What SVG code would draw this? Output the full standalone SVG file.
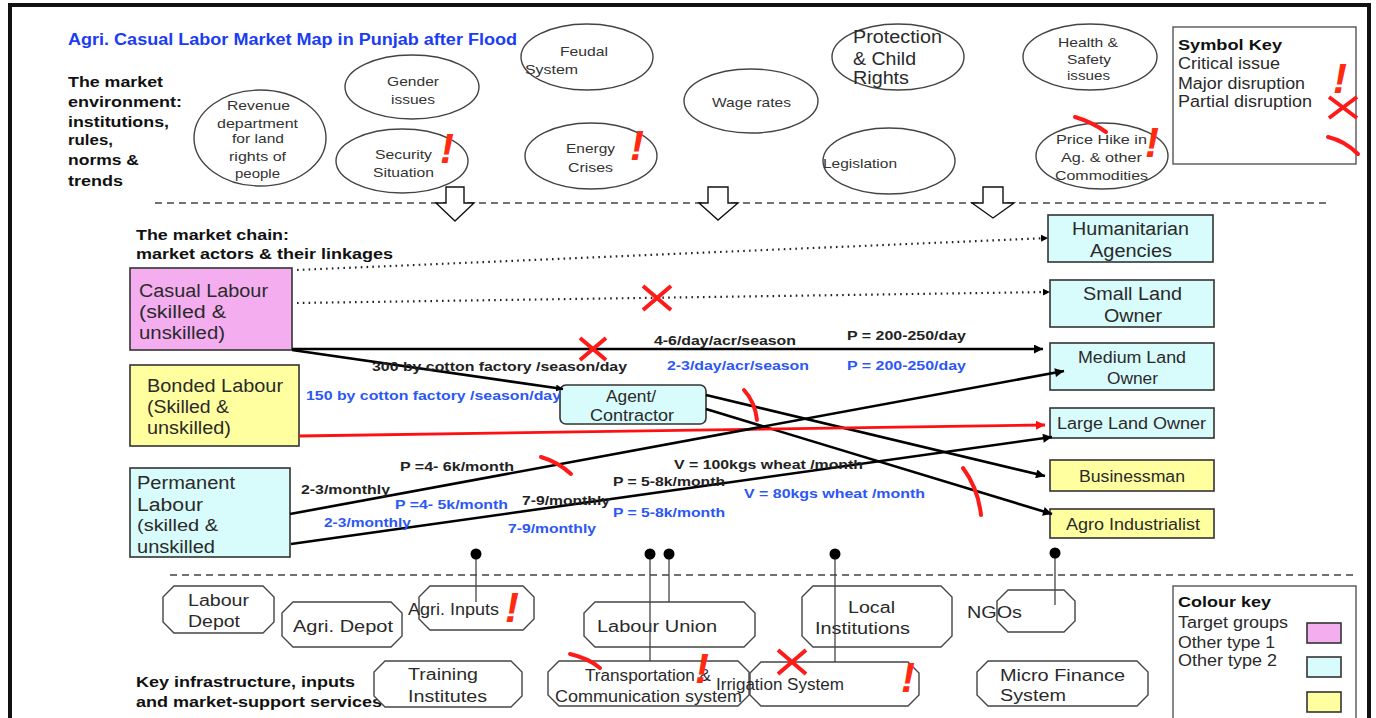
<svg xmlns="http://www.w3.org/2000/svg" width="1376" height="718" viewBox="0 0 1376 718">
<defs>
<style>
text{font-family:"Liberation Sans",Arial,sans-serif}
.t{fill:#333;font-size:13.5px}
.tb{fill:#2a2a2a;font-size:18px}
.ts{fill:#2a2a2a;font-size:16px}
.h{font-weight:bold;fill:#111;font-size:15.5px}
.bk{fill:#222;font-weight:bold;font-size:13px}
.bl{fill:#2b57f5;font-weight:bold;font-size:13px}
.title{fill:#1a3cf5;font-weight:bold;font-size:16px}
.env{fill:none;stroke:#444;stroke-width:1.4}
.box{stroke:#333;stroke-width:1.6}
.pink{fill:#f4aef0}
.cyan{fill:#d8fbfb}
.yel{fill:#ffffa0}
.svc{fill:#fff;stroke:#444;stroke-width:1.4}
.key{fill:#fff;stroke:#555;stroke-width:1.4}
.crit{fill:#ff2a10;font-weight:bold;font-style:italic;font-size:42px}
.x{stroke:#ff1a1a;stroke-width:4;fill:none}
.p{stroke:#ff1a1a;stroke-width:4;fill:none;stroke-linecap:round}
.dash{stroke:#444;stroke-width:1.6;stroke-dasharray:7 5;fill:none}
.link{stroke:#000;stroke-width:2.6;fill:none}
.red{stroke:#ff1010;stroke-width:2.8;fill:none}
.dot{stroke:#222;stroke-width:2.2;stroke-dasharray:1.6 4.2;fill:none}
.pin{stroke:#444;stroke-width:1.3}
.hollow{fill:#fff;stroke:#111;stroke-width:1.4}
</style>
<marker id="ah" viewBox="0 0 10 10" refX="10" refY="5" markerWidth="11" markerHeight="9" markerUnits="userSpaceOnUse" orient="auto">
<path d="M0,0 L10,5 L0,10 z" fill="#000"/>
</marker>
<marker id="ahr" viewBox="0 0 10 10" refX="10" refY="5" markerWidth="11" markerHeight="9" markerUnits="userSpaceOnUse" orient="auto">
<path d="M0,0 L10,5 L0,10 z" fill="#ff1010"/>
</marker>
<marker id="ahs" viewBox="0 0 10 10" refX="10" refY="5" markerWidth="7" markerHeight="8" markerUnits="userSpaceOnUse" orient="auto">
<path d="M0,0 L10,5 L0,10 z" fill="#000"/>
</marker>
</defs>

<rect width="1376" height="718" fill="#fff"/>
<!-- outer frame -->
<path d="M10,740 V5 H1369 V740" fill="none" stroke="#111" stroke-width="4"/>

<!-- headings -->
<g id="headings">
<text class="title" x="68" y="45" textLength="449" lengthAdjust="spacingAndGlyphs">Agri. Casual Labor Market Map in Punjab after Flood</text>
<text class="h" x="68" y="87" textLength="95" lengthAdjust="spacingAndGlyphs">The market</text>
<text class="h" x="68" y="107" textLength="114" lengthAdjust="spacingAndGlyphs">environment:</text>
<text class="h" x="68" y="127" textLength="101" lengthAdjust="spacingAndGlyphs">institutions,</text>
<text class="h" x="68" y="145" textLength="45" lengthAdjust="spacingAndGlyphs">rules,</text>
<text class="h" x="68" y="165" textLength="71" lengthAdjust="spacingAndGlyphs">norms &amp;</text>
<text class="h" x="68" y="186" textLength="55" lengthAdjust="spacingAndGlyphs">trends</text>
<text class="h" x="136" y="240" textLength="153" lengthAdjust="spacingAndGlyphs">The market chain:</text>
<text class="h" x="136" y="259" textLength="257" lengthAdjust="spacingAndGlyphs">market actors &amp; their linkages</text>
<text class="h" x="136" y="687" textLength="219" lengthAdjust="spacingAndGlyphs">Key infrastructure, inputs</text>
<text class="h" x="136" y="707" textLength="246" lengthAdjust="spacingAndGlyphs">and market-support services</text>
</g>

<!-- section dividers -->
<g id="dividers">
<line class="dash" x1="155" y1="203" x2="1330" y2="203"/>
<line class="dash" x1="170" y1="575" x2="1357" y2="575"/>
<polygon class="hollow" points="446,187 464,187 464,203 474,203 455,221 436,203 446,203"/>
<polygon class="hollow" points="708,187 728,187 728,203 738,203 718,220 699,203 708,203"/>
<polygon class="hollow" points="983,187 1003,187 1003,203 1014,203 993,218 972,203 983,203"/>
</g>

<!-- market environment -->
<g id="env-revenue"><ellipse class="env" cx="260" cy="138" rx="66" ry="48"/>
<text class="t" x="227" y="110" textLength="63" lengthAdjust="spacingAndGlyphs">Revenue</text>
<text class="t" x="217" y="128" textLength="81" lengthAdjust="spacingAndGlyphs">department</text>
<text class="t" x="232" y="143" textLength="52" lengthAdjust="spacingAndGlyphs">for land</text>
<text class="t" x="229" y="161" textLength="57" lengthAdjust="spacingAndGlyphs">rights of</text>
<text class="t" x="235" y="178" textLength="45" lengthAdjust="spacingAndGlyphs">people</text></g>
<g id="env-gender"><ellipse class="env" cx="412" cy="87" rx="67" ry="32"/>
<text class="t" x="387" y="86" textLength="52" lengthAdjust="spacingAndGlyphs">Gender</text>
<text class="t" x="391" y="104" textLength="44" lengthAdjust="spacingAndGlyphs">issues</text></g>
<g id="env-security"><ellipse class="env" cx="402" cy="161" rx="66" ry="32"/>
<text class="t" x="375" y="159" textLength="57" lengthAdjust="spacingAndGlyphs">Security</text>
<text class="t" x="373" y="177" textLength="61" lengthAdjust="spacingAndGlyphs">Situation</text></g>
<g id="env-feudal"><ellipse class="env" cx="587" cy="57" rx="66" ry="33"/>
<text class="t" x="560" y="56" textLength="48" lengthAdjust="spacingAndGlyphs">Feudal</text>
<text class="t" x="525" y="74" textLength="53" lengthAdjust="spacingAndGlyphs">System</text></g>
<g id="env-energy"><ellipse class="env" cx="591" cy="156" rx="66" ry="33"/>
<text class="t" x="566" y="153" textLength="49" lengthAdjust="spacingAndGlyphs">Energy</text>
<text class="t" x="568" y="172" textLength="45" lengthAdjust="spacingAndGlyphs">Crises</text></g>
<g id="env-wage"><ellipse class="env" cx="751" cy="101" rx="67" ry="32"/>
<text class="t" x="712" y="107" textLength="79" lengthAdjust="spacingAndGlyphs">Wage rates</text></g>
<g id="env-protection"><ellipse class="env" cx="898" cy="57" rx="66" ry="33"/>
<text class="tb" x="853" y="43" textLength="89" lengthAdjust="spacingAndGlyphs">Protection</text>
<text class="tb" x="853" y="65" textLength="63" lengthAdjust="spacingAndGlyphs">&amp; Child</text>
<text class="tb" x="853" y="84" textLength="56" lengthAdjust="spacingAndGlyphs">Rights</text></g>
<g id="env-legislation"><ellipse class="env" cx="889" cy="161" rx="66" ry="33"/>
<text class="t" x="823" y="168" textLength="74" lengthAdjust="spacingAndGlyphs">Legislation</text></g>
<g id="env-health"><ellipse class="env" cx="1090" cy="57" rx="67" ry="33"/>
<text class="t" x="1058" y="47" textLength="60" lengthAdjust="spacingAndGlyphs">Health &amp;</text>
<text class="t" x="1067" y="64" textLength="44" lengthAdjust="spacingAndGlyphs">Safety</text>
<text class="t" x="1067" y="80" textLength="43" lengthAdjust="spacingAndGlyphs">issues</text></g>
<g id="env-price"><ellipse class="env" cx="1102" cy="156" rx="66" ry="33"/>
<text class="t" x="1056" y="144" textLength="91" lengthAdjust="spacingAndGlyphs">Price Hike in</text>
<text class="t" x="1061" y="162" textLength="81" lengthAdjust="spacingAndGlyphs">Ag. &amp; other</text>
<text class="t" x="1055" y="180" textLength="93" lengthAdjust="spacingAndGlyphs">Commodities</text></g>

<!-- symbol key -->
<g id="symbol-key">
<rect class="key" x="1173" y="27" width="183" height="137"/>
<text class="h" x="1178" y="50" font-size="16" textLength="104" lengthAdjust="spacingAndGlyphs">Symbol Key</text>
<text class="ts" x="1178" y="69" font-size="15" textLength="102" lengthAdjust="spacingAndGlyphs">Critical issue</text>
<text class="ts" x="1178" y="89" font-size="15" textLength="127" lengthAdjust="spacingAndGlyphs">Major disruption</text>
<text class="ts" x="1178" y="107" font-size="15" textLength="134" lengthAdjust="spacingAndGlyphs">Partial disruption</text>
</g>

<!-- market actors -->
<g id="casual-labour"><rect class="box pink" x="130" y="268" width="162" height="82"/>
<text class="tb" x="139" y="297" textLength="129" lengthAdjust="spacingAndGlyphs">Casual Labour</text>
<text class="tb" x="139" y="318" textLength="87" lengthAdjust="spacingAndGlyphs">(skilled &amp;</text>
<text class="tb" x="139" y="339" textLength="86" lengthAdjust="spacingAndGlyphs">unskilled)</text></g>
<g id="bonded-labour"><rect class="box yel" x="130" y="365" width="169" height="81"/>
<text class="tb" x="147" y="392" textLength="136" lengthAdjust="spacingAndGlyphs">Bonded Labour</text>
<text class="tb" x="147" y="413" textLength="82" lengthAdjust="spacingAndGlyphs">(Skilled &amp;</text>
<text class="tb" x="147" y="434" textLength="84" lengthAdjust="spacingAndGlyphs">unskilled)</text></g>
<g id="permanent-labour"><rect class="box cyan" x="130" y="468" width="160" height="89"/>
<text class="tb" x="137" y="489" textLength="98" lengthAdjust="spacingAndGlyphs">Permanent</text>
<text class="tb" x="137" y="511" textLength="66" lengthAdjust="spacingAndGlyphs">Labour</text>
<text class="ts" x="137" y="531" textLength="81" lengthAdjust="spacingAndGlyphs">(skilled &amp;</text>
<text class="tb" x="137" y="553" textLength="78" lengthAdjust="spacingAndGlyphs">unskilled</text></g>
<g id="agent"><rect class="box cyan" x="560" y="385" width="146" height="39" rx="6"/>
<text class="ts" x="606" y="402" font-size="15.5" textLength="50" lengthAdjust="spacingAndGlyphs">Agent/</text>
<text class="ts" x="590" y="421" font-size="15.5" textLength="84" lengthAdjust="spacingAndGlyphs">Contractor</text></g>
<g id="humanitarian"><rect class="box cyan" x="1048" y="215" width="165" height="47"/>
<text class="tb" x="1072" y="235" textLength="117" lengthAdjust="spacingAndGlyphs">Humanitarian</text>
<text class="tb" x="1090" y="257" textLength="82" lengthAdjust="spacingAndGlyphs">Agencies</text></g>
<g id="small-land"><rect class="box cyan" x="1050" y="280" width="164" height="47"/>
<text class="tb" x="1083" y="300" textLength="99" lengthAdjust="spacingAndGlyphs">Small Land</text>
<text class="tb" x="1104" y="322" textLength="58" lengthAdjust="spacingAndGlyphs">Owner</text></g>
<g id="medium-land"><rect class="box cyan" x="1050" y="343" width="164" height="47"/>
<text class="ts" x="1078" y="363" textLength="108" lengthAdjust="spacingAndGlyphs">Medium Land</text>
<text class="ts" x="1107" y="384" textLength="51" lengthAdjust="spacingAndGlyphs">Owner</text></g>
<g id="large-land"><rect class="box cyan" x="1050" y="408" width="164" height="30"/>
<text class="ts" x="1057" y="429" textLength="149" lengthAdjust="spacingAndGlyphs">Large Land Owner</text></g>
<g id="businessman"><rect class="box yel" x="1050" y="460" width="164" height="31"/>
<text class="ts" x="1079" y="482" textLength="106" lengthAdjust="spacingAndGlyphs">Businessman</text></g>
<g id="agro-industrialist"><rect class="box yel" x="1050" y="509" width="164" height="29"/>
<text class="ts" x="1066" y="530" font-size="14.5" textLength="134" lengthAdjust="spacingAndGlyphs">Agro Industrialist</text></g>

<!-- support services -->
<g id="labour-depot"><polygon class="svc" points="174,586 263,586 274,597 274,622 263,633 174,633 163,622 163,597"/>
<text class="ts" x="188" y="606" textLength="61" lengthAdjust="spacingAndGlyphs">Labour</text>
<text class="ts" x="188" y="627" textLength="52" lengthAdjust="spacingAndGlyphs">Depot</text></g>
<g id="agri-depot"><polygon class="svc" points="293,602 391,602 402,613 402,636 391,647 293,647 282,636 282,613"/>
<text class="ts" x="293" y="632" textLength="100" lengthAdjust="spacingAndGlyphs">Agri. Depot</text></g>
<g id="agri-inputs"><polygon class="svc" points="430,586 523,586 534,597 534,619 523,630 430,630 419,619 419,597"/>
<text class="ts" x="408" y="615" textLength="91" lengthAdjust="spacingAndGlyphs">Agri. Inputs</text></g>
<g id="training"><polygon class="svc" points="385,661 511,661 522,672 522,696 511,707 385,707 374,696 374,672"/>
<text class="ts" x="408" y="680" textLength="70" lengthAdjust="spacingAndGlyphs">Training</text>
<text class="ts" x="408" y="702" textLength="79" lengthAdjust="spacingAndGlyphs">Institutes</text></g>
<g id="labour-union"><polygon class="svc" points="595,602 744,602 755,613 755,636 744,647 595,647 584,636 584,613"/>
<text class="ts" x="597" y="632" textLength="120" lengthAdjust="spacingAndGlyphs">Labour Union</text></g>
<g id="local-institutions"><polygon class="svc" points="813,586 941,586 952,597 952,636 941,647 813,647 802,636 802,597"/>
<text class="ts" x="848" y="613" textLength="47" lengthAdjust="spacingAndGlyphs">Local</text>
<text class="ts" x="815" y="634" textLength="95" lengthAdjust="spacingAndGlyphs">Institutions</text></g>
<g id="transport"><polygon class="svc" points="559,661 738,661 749,672 749,695 738,706 559,706 548,695 548,672"/>
<text class="ts" x="585" y="681" textLength="126" lengthAdjust="spacingAndGlyphs">Transportation &amp;</text>
<text class="ts" x="555" y="702" textLength="187" lengthAdjust="spacingAndGlyphs">Communication system</text></g>
<g id="irrigation"><polygon class="svc" points="761,662 908,662 919,673 919,695 908,706 761,706 750,695 750,673"/>
<text class="ts" x="716" y="690" textLength="128" lengthAdjust="spacingAndGlyphs">Irrigation System</text></g>
<g id="ngos"><polygon class="svc" points="1008,590 1064,590 1075,601 1075,621 1064,632 1008,632 997,621 997,601"/>
<text class="ts" x="967" y="618" textLength="55" lengthAdjust="spacingAndGlyphs">NGOs</text></g>
<g id="micro-finance"><polygon class="svc" points="988,661 1137,661 1148,672 1148,695 1137,706 988,706 977,695 977,672"/>
<text class="ts" x="1000" y="681" textLength="125" lengthAdjust="spacingAndGlyphs">Micro Finance</text>
<text class="ts" x="1000" y="701" textLength="66" lengthAdjust="spacingAndGlyphs">System</text></g>

<!-- colour key -->
<g id="colour-key">
<rect class="key" x="1173" y="586" width="183" height="140"/>
<text class="h" x="1178" y="607" font-size="16" textLength="93" lengthAdjust="spacingAndGlyphs">Colour key</text>
<text class="ts" x="1178" y="628" font-size="14.5" textLength="110" lengthAdjust="spacingAndGlyphs">Target groups</text>
<text class="ts" x="1178" y="648" font-size="14.5" textLength="97" lengthAdjust="spacingAndGlyphs">Other type 1</text>
<text class="ts" x="1178" y="666" font-size="14.5" textLength="99" lengthAdjust="spacingAndGlyphs">Other type 2</text>
<rect class="box pink" x="1307" y="623" width="34" height="20"/>
<rect class="box cyan" x="1307" y="657" width="34" height="20"/>
<rect class="box yel" x="1307" y="692" width="34" height="20"/>
</g>

<!-- connectors -->
<g id="connectors">
<line class="dot" x1="297" y1="270" x2="1048" y2="238" marker-end="url(#ahs)"/>
<line class="dot" x1="297" y1="303" x2="1050" y2="292" marker-end="url(#ahs)"/>
<line class="link" x1="292" y1="349" x2="1043" y2="349" marker-end="url(#ah)"/>
<line class="link" x1="292" y1="350" x2="563" y2="389" marker-end="url(#ahs)"/>
<line class="link" x1="706" y1="395" x2="1045" y2="476" marker-end="url(#ah)"/>
<line class="link" x1="706" y1="409" x2="1052" y2="514" marker-end="url(#ah)"/>
<line class="red" x1="299" y1="436" x2="1045" y2="425" marker-end="url(#ahr)"/>
<line class="link" x1="290" y1="514" x2="1064" y2="371" marker-end="url(#ah)"/>
<line class="link" x1="291" y1="544" x2="1052" y2="437" marker-end="url(#ah)"/>
<!-- service pins -->
<line class="pin" x1="476" y1="554" x2="476" y2="602"/><circle cx="476" cy="554" r="5.5" fill="#000"/>
<line class="pin" x1="650" y1="554" x2="650" y2="661"/><circle cx="650" cy="554" r="5.5" fill="#000"/>
<line class="pin" x1="669" y1="554" x2="669" y2="602"/><circle cx="669" cy="554" r="5.5" fill="#000"/>
<line class="pin" x1="835" y1="554" x2="835" y2="662"/><circle cx="835" cy="554" r="5.5" fill="#000"/>
<line class="pin" x1="1055" y1="553" x2="1055" y2="605"/><circle cx="1055" cy="553" r="5.5" fill="#000"/>
</g>

<!-- link labels -->
<g id="link-labels">
<text class="bk" x="372" y="371" textLength="255" lengthAdjust="spacingAndGlyphs">300 by cotton factory /season/day</text>
<text class="bl" x="306" y="400" textLength="255" lengthAdjust="spacingAndGlyphs">150 by cotton factory /season/day</text>
<text class="bk" x="654" y="345" textLength="142" lengthAdjust="spacingAndGlyphs">4-6/day/acr/season</text>
<text class="bk" x="847" y="340" textLength="119" lengthAdjust="spacingAndGlyphs">P = 200-250/day</text>
<text class="bl" x="667" y="370" textLength="142" lengthAdjust="spacingAndGlyphs">2-3/day/acr/season</text>
<text class="bl" x="847" y="370" textLength="119" lengthAdjust="spacingAndGlyphs">P = 200-250/day</text>
<text class="bk" x="400" y="471" textLength="114" lengthAdjust="spacingAndGlyphs">P =4- 6k/month</text>
<text class="bk" x="301" y="494" textLength="89" lengthAdjust="spacingAndGlyphs">2-3/monthly</text>
<text class="bl" x="395" y="509" textLength="113" lengthAdjust="spacingAndGlyphs">P =4- 5k/month</text>
<text class="bl" x="324" y="527" textLength="87" lengthAdjust="spacingAndGlyphs">2-3/monthly</text>
<text class="bk" x="522" y="505" textLength="88" lengthAdjust="spacingAndGlyphs">7-9/monthly</text>
<text class="bl" x="508" y="533" font-size="12" textLength="88" lengthAdjust="spacingAndGlyphs">7-9/monthly</text>
<text class="bk" x="613" y="486" textLength="112" lengthAdjust="spacingAndGlyphs">P = 5-8k/month</text>
<text class="bl" x="613" y="517" textLength="112" lengthAdjust="spacingAndGlyphs">P = 5-8k/month</text>
<text class="bk" x="674" y="469" textLength="189" lengthAdjust="spacingAndGlyphs">V = 100kgs wheat /month</text>
<text class="bl" x="744" y="498" textLength="181" lengthAdjust="spacingAndGlyphs">V = 80kgs wheat /month</text>
</g>

<!-- disruption marks -->
<g id="marks">
<text class="crit" x="440" y="163">!</text>
<text class="crit" x="630" y="160">!</text>
<text class="crit" x="1145" y="157">!</text>
<text class="crit" x="1333" y="93">!</text>
<text class="crit" x="505" y="622">!</text>
<text class="crit" x="695" y="683">!</text>
<text class="crit" x="901" y="692">!</text>
<path class="x" d="M1329,97 L1357,118 M1357,97 L1329,118"/>
<path class="x" d="M643,286 L671,310 M671,286 L643,310"/>
<path class="x" d="M580,338 L606,360 M606,338 L580,360"/>
<path class="x" d="M778,650 L806,674 M806,650 L778,674"/>
<path class="p" d="M1328,137 Q1345,141 1358,154"/>
<path class="p" d="M1075,117 Q1092,122 1106,132"/>
<path class="p" d="M744,390 Q755,402 757,420"/>
<path class="p" d="M541,457 Q558,462 571,474"/>
<path class="p" d="M963,468 Q978,488 981,515"/>
<path class="p" d="M570,654 Q588,658 600,668"/>
</g>
</svg>
